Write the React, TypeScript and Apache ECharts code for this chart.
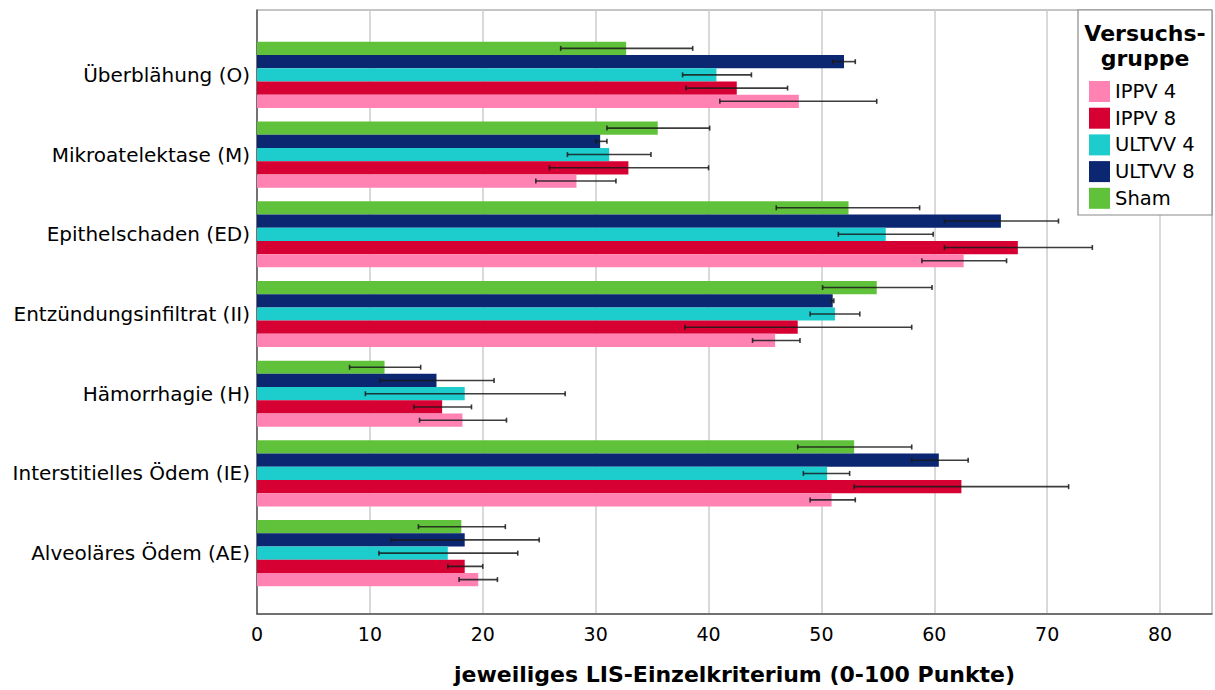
import React, { useEffect, useRef } from "react";
import * as echarts from "echarts";

const categories = [
  "Überblähung (O)",
  "Mikroatelektase (M)",
  "Epithelschaden (ED)",
  "Entzündungsinfiltrat (II)",
  "Hämorrhagie (H)",
  "Interstitielles Ödem (IE)",
  "Alveoläres Ödem (AE)",
];

const groupNames = ["IPPV 4", "IPPV 8", "ULTVV 4", "ULTVV 8", "Sham"];
const groupColors = ["#FF82B2", "#D60033", "#1DCDCD", "#0B2772", "#60C23A"];

const ippv4 = [48.0, 28.3, 62.6, 45.9, 18.2, 50.9, 19.6];
const ippv4Lo = [41.0, 24.7, 58.9, 43.9, 14.4, 49.0, 17.9];
const ippv4Hi = [54.9, 31.8, 66.4, 48.1, 22.1, 53.0, 21.3];

const ippv8 = [42.5, 32.9, 67.4, 47.9, 16.4, 62.4, 18.4];
const ippv8Lo = [38.0, 25.9, 60.9, 37.9, 13.9, 52.9, 16.9];
const ippv8Hi = [47.0, 40.0, 74.0, 58.0, 19.0, 71.9, 20.0];

const ultvv4 = [40.7, 31.2, 55.7, 51.2, 18.4, 50.5, 16.9];
const ultvv4Lo = [37.7, 27.5, 51.5, 49.0, 9.6, 48.4, 10.8];
const ultvv4Hi = [43.8, 34.9, 59.9, 53.4, 27.3, 52.5, 23.1];

const ultvv8 = [52.0, 30.4, 65.9, 51.0, 15.9, 60.4, 18.4];
const ultvv8Lo = [51.0, 30.0, 60.9, 50.9, 10.9, 58.0, 11.9];
const ultvv8Hi = [53.0, 31.0, 71.0, 51.1, 21.0, 63.0, 25.0];

const sham = [32.7, 35.5, 52.4, 54.9, 11.3, 52.9, 18.1];
const shamLo = [26.9, 31.0, 46.0, 50.1, 8.2, 47.9, 14.3];
const shamHi = [38.6, 40.1, 58.7, 59.8, 14.5, 58.0, 22.0];

const xTicks = [0, 10, 20, 30, 40, 50, 60, 70, 80];
const xMax = 84.6;

const FONT = "DejaVu Sans";
const CAT_GAP = 0.17;

export default function App() {
  const ref = useRef<HTMLDivElement>(null);

  useEffect(() => {
    if (!ref.current) return;
    const chart = echarts.init(ref.current, undefined, { renderer: "svg" });

    // top-to-bottom order inside each category band
    const stack = [
      { name: "Sham", values: sham, lo: shamLo, hi: shamHi, color: groupColors[4] },
      { name: "ULTVV 8", values: ultvv8, lo: ultvv8Lo, hi: ultvv8Hi, color: groupColors[3] },
      { name: "ULTVV 4", values: ultvv4, lo: ultvv4Lo, hi: ultvv4Hi, color: groupColors[2] },
      { name: "IPPV 8", values: ippv8, lo: ippv8Lo, hi: ippv8Hi, color: groupColors[1] },
      { name: "IPPV 4", values: ippv4, lo: ippv4Lo, hi: ippv4Hi, color: groupColors[0] },
    ];

    const errData: number[][] = [];
    stack.forEach((s, k) => {
      s.values.forEach((_, i) => errData.push([i, k, s.lo[i], s.hi[i]]));
    });

    const barSeries = stack.map((s) => ({
      name: s.name,
      type: "bar",
      xAxisIndex: 1,
      yAxisIndex: 1,
      data: s.values,
      barGap: "0%",
      barCategoryGap: CAT_GAP * 100 + "%",
      itemStyle: { color: s.color },
      z: 2,
    }));

    const option: any = {
      animation: false,
      backgroundColor: "#ffffff",
      textStyle: { fontFamily: FONT },
      grid: [
        {
          left: 257,
          right: 3,
          top: 10,
          bottom: 74,
          show: true,
          borderColor: "#8a8a8a",
          borderWidth: 1,
          backgroundColor: "transparent",
        },
        { left: 257, right: 3, top: 35, bottom: 97 },
      ],
      xAxis: [
        {
          type: "value",
          gridIndex: 0,
          min: 0,
          max: xMax,
          interval: 10,
          axisLine: { show: true, lineStyle: { color: "#555", width: 1.5 } },
          axisTick: { show: false },
          splitLine: { show: true, lineStyle: { color: "#cccccc", width: 1.5 } },
          axisLabel: {
            fontFamily: FONT,
            fontSize: 19,
            color: "#000",
            margin: 10,
            formatter: (v: number) => (xTicks.indexOf(v) >= 0 ? String(v) : ""),
          },
          name: "jeweiliges LIS-Einzelkriterium (0-100 Punkte)",
          nameLocation: "middle",
          nameGap: 49,
          nameTextStyle: { fontFamily: FONT, fontSize: 22, fontWeight: "bold", color: "#000" },
        },
        { type: "value", gridIndex: 1, min: 0, max: xMax, show: false },
      ],
      yAxis: [
        {
          type: "value",
          gridIndex: 0,
          min: 0,
          max: 1,
          axisLine: { show: true, lineStyle: { color: "#555", width: 1.5 } },
          axisTick: { show: false },
          axisLabel: { show: false },
          splitLine: { show: false },
        },
        {
          type: "category",
          gridIndex: 1,
          inverse: true,
          data: categories,
          axisLine: { show: false },
          axisTick: { show: false },
          splitLine: { show: false },
          axisLabel: { fontFamily: FONT, fontSize: 20, color: "#000", margin: 7 },
        },
      ],
      legend: {
        orient: "vertical",
        left: 1089,
        top: 81,
        padding: 0,
        itemWidth: 21,
        itemHeight: 21,
        itemGap: 5.7,
        icon: "rect",
        data: groupNames,
        textStyle: { fontFamily: FONT, fontSize: 19.5, color: "#000" },
        z: 30,
      },
      graphic: [
        {
          type: "rect",
          z: 20,
          shape: { x: 1078, y: 10, width: 134, height: 205 },
          style: { fill: "#fff", stroke: "#8a8a8a", lineWidth: 1.2 },
        },
        {
          type: "text",
          z: 25,
          x: 1145,
          y: 21,
          style: {
            text: "Versuchs-\ngruppe",
            fontFamily: FONT,
            fontSize: 22,
            fontWeight: "bold",
            fill: "#000",
            align: "center",
            verticalAlign: "top",
            lineHeight: 25,
          },
        },
      ],
      series: [
        ...barSeries,
        {
          type: "custom",
          name: "errors",
          xAxisIndex: 1,
          yAxisIndex: 1,
          z: 5,
          silent: true,
          encode: { x: [2, 3], y: 0 },
          data: errData,
          renderItem: (params: any, api: any) => {
            const cat = api.value(0);
            const k = api.value(1);
            const lo = api.value(2);
            const hi = api.value(3);
            const p1 = api.coord([lo, cat]);
            const p2 = api.coord([hi, cat]);
            const bandH = api.size([0, 1])[1];
            const barH = (bandH * (1 - CAT_GAP)) / 5;
            const y = p1[1] - bandH / 2 + (bandH * CAT_GAP) / 2 + barH * (k + 0.5);
            const st = { stroke: "#1a1a1a", lineWidth: 1.6, opacity: 0.85 };
            return {
              type: "group",
              children: [
                { type: "line", shape: { x1: p1[0], y1: y, x2: p2[0], y2: y }, style: st },
                { type: "line", shape: { x1: p1[0], y1: y - 2.5, x2: p1[0], y2: y + 2.5 }, style: st },
                { type: "line", shape: { x1: p2[0], y1: y - 2.5, x2: p2[0], y2: y + 2.5 }, style: st },
              ],
            };
          },
        },
      ],
    };

    chart.setOption(option);
    return () => chart.dispose();
  }, []);

  return (
    <div
      ref={ref}
      style={{ position: "fixed", left: 0, top: 0, width: 1215, height: 690, background: "#fff" }}
    />
  );
}
